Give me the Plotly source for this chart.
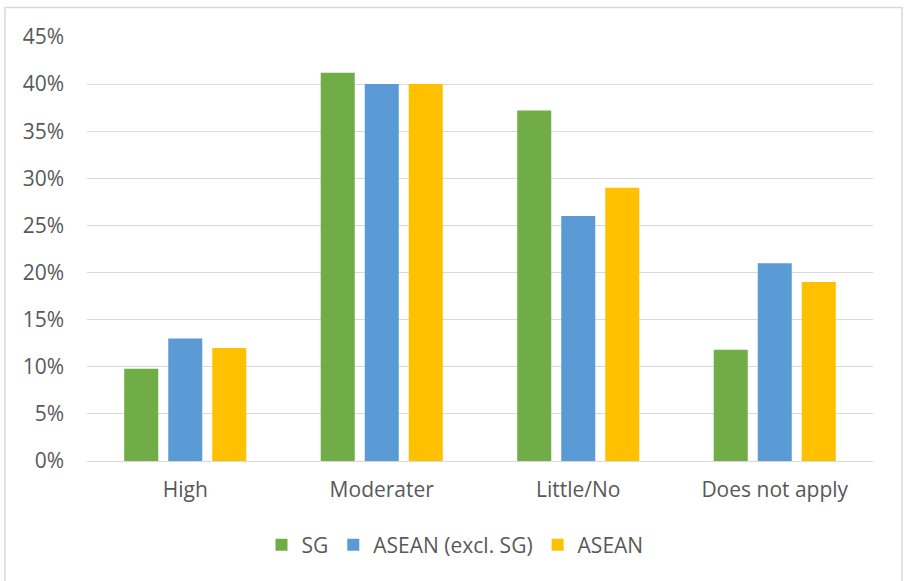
import plotly.graph_objects as go

categories = ["High", "Moderater", "Little/No", "Does not apply"]
series_names = ["SG", "ASEAN (excl. SG)", "ASEAN"]
sg_values = [0.098, 0.412, 0.372, 0.118]
asean_excl_values = [0.13, 0.40, 0.26, 0.21]
asean_values = [0.12, 0.40, 0.29, 0.19]
colors = ["#70AD47", "#5B9BD5", "#FFC000"]
y_ticks = [0, 0.05, 0.10, 0.15, 0.20, 0.25, 0.30, 0.35, 0.40, 0.45]

W, H = 904, 581
L, R, T, B = 87, 31, 37, 120
pw, ph = W - L - R, H - T - B

fig = go.Figure()
for name, vals, col in zip(series_names, [sg_values, asean_excl_values, asean_values], colors):
    fig.add_trace(go.Bar(x=categories, y=vals, name=name, marker=dict(color=col, line=dict(width=0))))

font_family = "'Open Sans', sans-serif"
fs = 21
fig.update_layout(
    width=W, height=H,
    margin=dict(l=L, r=R, t=T, b=B, pad=0),
    paper_bgcolor="white", plot_bgcolor="white",
    barmode="group", bargap=0.328, bargroupgap=0.227,
    font=dict(family=font_family, size=fs, color="#595959"),
    showlegend=True,
    legend=dict(orientation="h", x=(455 - L) / pw, xanchor="center", y=(461 - 545) / ph, yanchor="middle",
                font=dict(size=fs, color="#595959"), itemwidth=30, traceorder="normal",
                itemsizing="constant"),
    xaxis=dict(showgrid=False, showline=False, zeroline=False, ticks="",
               ticklabelstandoff=14, tickfont=dict(size=fs, color="#595959")),
    yaxis=dict(range=[0, 0.45], tickvals=y_ticks, tickformat=".0%", showgrid=True,
               gridcolor="#D9D9D9", gridwidth=1, zeroline=True, zerolinecolor="#D9D9D9",
               zerolinewidth=1, showline=False, ticks="", ticklabelstandoff=22,
               tickfont=dict(size=fs, color="#595959")),
    shapes=[dict(type="rect", xref="paper", yref="paper",
                 x0=(5 - L) / pw, x1=(902 - L) / pw, y0=(461 - 590) / ph, y1=(461 - 7.5) / ph,
                 line=dict(color="#D9D9D9", width=1.5), fillcolor="rgba(0,0,0,0)", layer="below")],
)

fig.write_html("out.html")
